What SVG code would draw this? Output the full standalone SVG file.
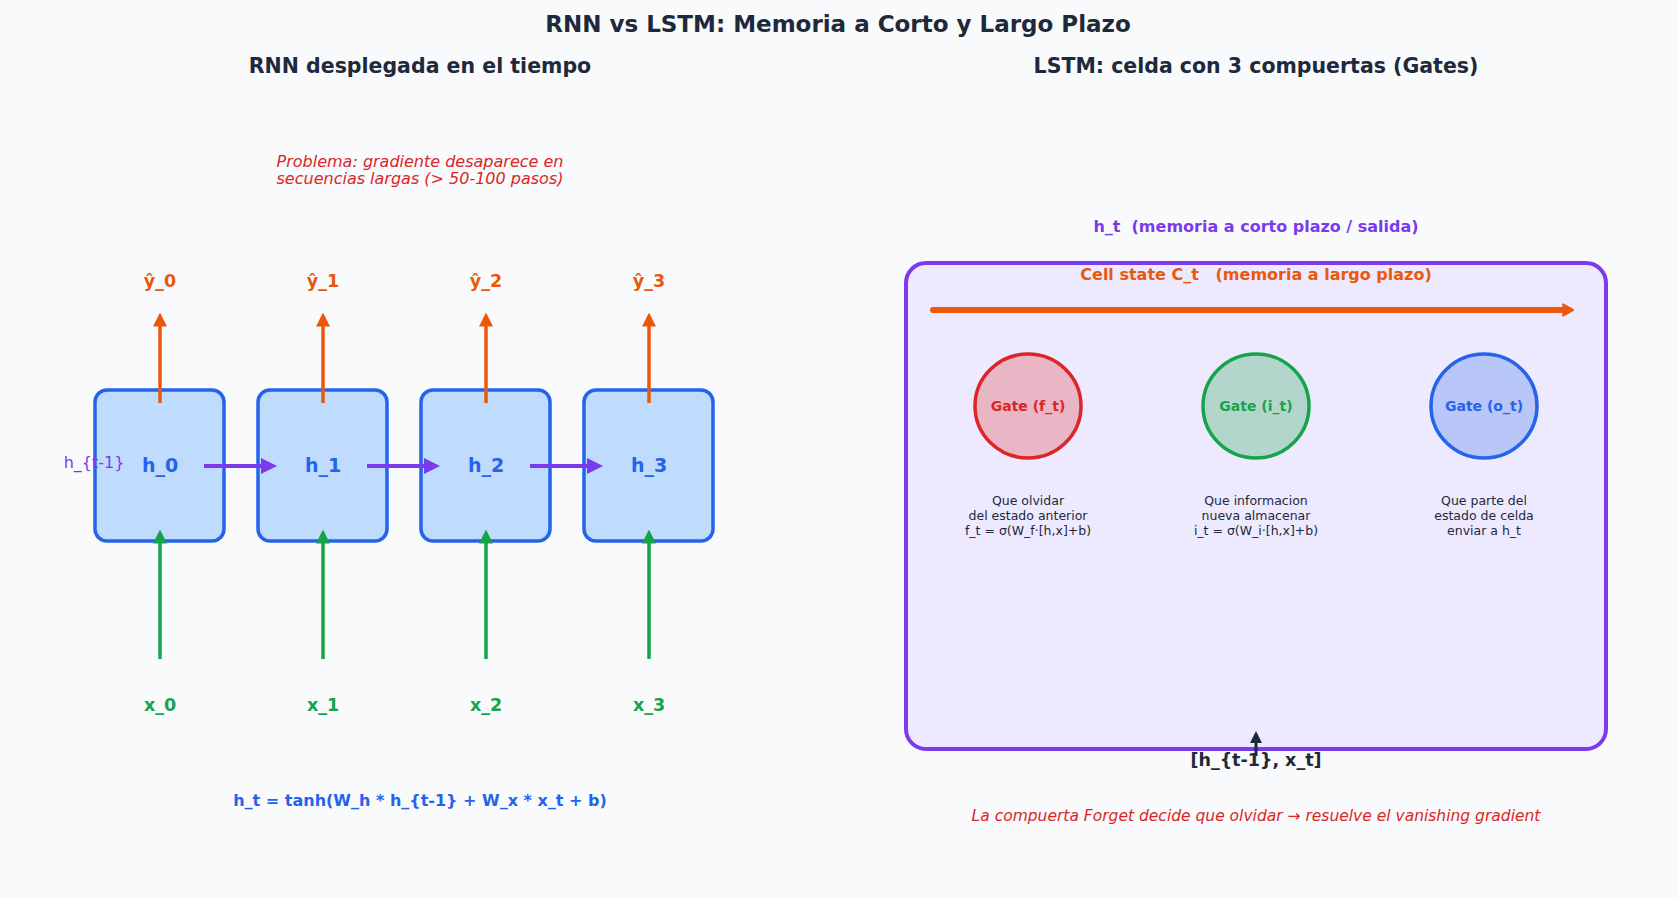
<svg xmlns="http://www.w3.org/2000/svg" width="1677" height="898" viewBox="0 0 1677 898">
<style>
text{font-family:"DejaVu Sans",sans-serif;text-anchor:middle;dominant-baseline:central}
.b{font-weight:bold}
.box{fill:#bfdbfe;stroke:#2563eb;stroke-width:3.5}
.nt{fill:#2563eb;font-size:19px;font-weight:bold}
.o{stroke:#ea580c;stroke-width:3.5;fill:none}
.g{stroke:#16a34a;stroke-width:3.5;fill:none}
.p{stroke:#7c3aed;stroke-width:4;fill:none}
.desc{fill:#1e293b;font-size:12.5px}
</style>
<defs>
<marker id="ao" markerWidth="4" markerHeight="4" refX="3" refY="2" orient="auto"><path d="M0,0L4,2L0,4z" fill="#ea580c"/></marker>
<marker id="ac" markerUnits="userSpaceOnUse" markerWidth="14" markerHeight="14" refX="7" refY="7" orient="auto"><path d="M2,1.5L12,7L2,12.5Q4,7 2,1.5z" fill="#ea580c" stroke="#ea580c" stroke-width="2" stroke-linejoin="round"/></marker>
<marker id="ag" markerWidth="4" markerHeight="4" refX="3" refY="2" orient="auto"><path d="M0,0L4,2L0,4z" fill="#16a34a"/></marker>
<marker id="ap" markerWidth="4" markerHeight="4" refX="3" refY="2" orient="auto"><path d="M0,0L4,2L0,4z" fill="#7c3aed"/></marker>
<marker id="ad" markerWidth="4" markerHeight="4" refX="3" refY="2" orient="auto"><path d="M0,0L4,2L0,4z" fill="#1e293b"/></marker>
</defs>
<rect width="1677" height="898" fill="#f8fafc"/>
<text x="838" y="24" class="b" font-size="23" fill="#1e293b">RNN vs LSTM: Memoria a Corto y Largo Plazo</text>
<text x="420" y="66" class="b" font-size="20.5" fill="#1e293b">RNN desplegada en el tiempo</text>
<text x="1256" y="66" class="b" font-size="20.5" fill="#1e293b">LSTM: celda con 3 compuertas (Gates)</text>
<text x="420" y="161" font-size="16" font-style="italic" fill="#dc2626">Problema: gradiente desaparece en</text>
<text x="420" y="178" font-size="16" font-style="italic" fill="#dc2626">secuencias largas (&gt; 50-100 pasos)</text>

<g id="rnn-h0"><rect class="box" x="95" y="390" width="129" height="151" rx="12"/><text class="nt" x="160" y="465">h_0</text></g>
<g id="rnn-h1"><rect class="box" x="258" y="390" width="129" height="151" rx="12"/><text class="nt" x="323" y="465">h_1</text></g>
<g id="rnn-h2"><rect class="box" x="421" y="390" width="129" height="151" rx="12"/><text class="nt" x="486" y="465">h_2</text></g>
<g id="rnn-h3"><rect class="box" x="584" y="390" width="129" height="151" rx="12"/><text class="nt" x="649" y="465">h_3</text></g>

<g id="labels" class="b" font-size="17.5">
<text x="160" y="281" fill="#ea580c">ŷ_0</text><text x="323" y="281" fill="#ea580c">ŷ_1</text><text x="486" y="281" fill="#ea580c">ŷ_2</text><text x="649" y="281" fill="#ea580c">ŷ_3</text>
<text x="160" y="705" fill="#16a34a">x_0</text><text x="323" y="705" fill="#16a34a">x_1</text><text x="486" y="705" fill="#16a34a">x_2</text><text x="649" y="705" fill="#16a34a">x_3</text>
</g>
<text x="94" y="462" font-size="16" fill="#7c3aed">h_{t-1}</text>

<text x="420" y="800" class="b" font-size="16" fill="#2563eb">h_t = tanh(W_h * h_{t-1} + W_x * x_t + b)</text>

<g id="lstm-cell"><rect x="906" y="263" width="700" height="486" rx="20" fill="#ede9fe" stroke="#7c3aed" stroke-width="4"/></g>
<text x="1256" y="226" class="b" font-size="16" fill="#7c3aed" xml:space="preserve">h_t  (memoria a corto plazo / salida)</text>
<text x="1256" y="274" class="b" font-size="16" fill="#ea580c" xml:space="preserve">Cell state C_t   (memoria a largo plazo)</text>

<g id="gate-f"><ellipse cx="1028" cy="406" rx="53" ry="52" fill="#e8b6c4" stroke="#dc2626" stroke-width="3.5"/><text x="1028" y="406" class="b" font-size="14" fill="#dc2626">Gate (f_t)</text>
<text class="desc" x="1028" y="500">Que olvidar</text><text class="desc" x="1028" y="515">del estado anterior</text><text class="desc" x="1028" y="530">f_t = σ(W_f·[h,x]+b)</text></g>
<g id="gate-i"><ellipse cx="1256" cy="406" rx="53" ry="52" fill="#b3d6cc" stroke="#16a34a" stroke-width="3.5"/><text x="1256" y="406" class="b" font-size="14" fill="#16a34a">Gate (i_t)</text>
<text class="desc" x="1256" y="500">Que informacion</text><text class="desc" x="1256" y="515">nueva almacenar</text><text class="desc" x="1256" y="530">i_t = σ(W_i·[h,x]+b)</text></g>
<g id="gate-o"><ellipse cx="1484" cy="406" rx="53" ry="52" fill="#b8c6f8" stroke="#2563eb" stroke-width="3.5"/><text x="1484" y="406" class="b" font-size="14" fill="#2563eb">Gate (o_t)</text>
<text class="desc" x="1484" y="500">Que parte del</text><text class="desc" x="1484" y="515">estado de celda</text><text class="desc" x="1484" y="530">enviar a h_t</text></g>

<text x="1256" y="760" class="b" font-size="17.5" fill="#1e293b">[h_{t-1}, x_t]</text>
<text x="1256" y="816" font-size="15.5" font-style="italic" fill="#dc2626">La compuerta Forget decide que olvidar → resuelve el vanishing gradient</text>

<g id="connectors">
<path class="o" marker-end="url(#ao)" d="M160,403V316"/><path class="o" marker-end="url(#ao)" d="M323,403V316"/><path class="o" marker-end="url(#ao)" d="M486,403V316"/><path class="o" marker-end="url(#ao)" d="M649,403V316"/>
<path class="g" marker-end="url(#ag)" d="M160,659V533"/><path class="g" marker-end="url(#ag)" d="M323,659V533"/><path class="g" marker-end="url(#ag)" d="M486,659V533"/><path class="g" marker-end="url(#ag)" d="M649,659V533"/>
<path class="p" marker-end="url(#ap)" d="M204,466H273"/><path class="p" marker-end="url(#ap)" d="M367,466H436"/><path class="p" marker-end="url(#ap)" d="M530,466H599"/>
<path stroke="#ea580c" stroke-width="6" fill="none" stroke-linecap="round" marker-end="url(#ac)" d="M933,310H1568"/>
<path stroke="#1e293b" stroke-width="3" fill="none" marker-end="url(#ad)" d="M1256,756V734"/>
</g>
</svg>
